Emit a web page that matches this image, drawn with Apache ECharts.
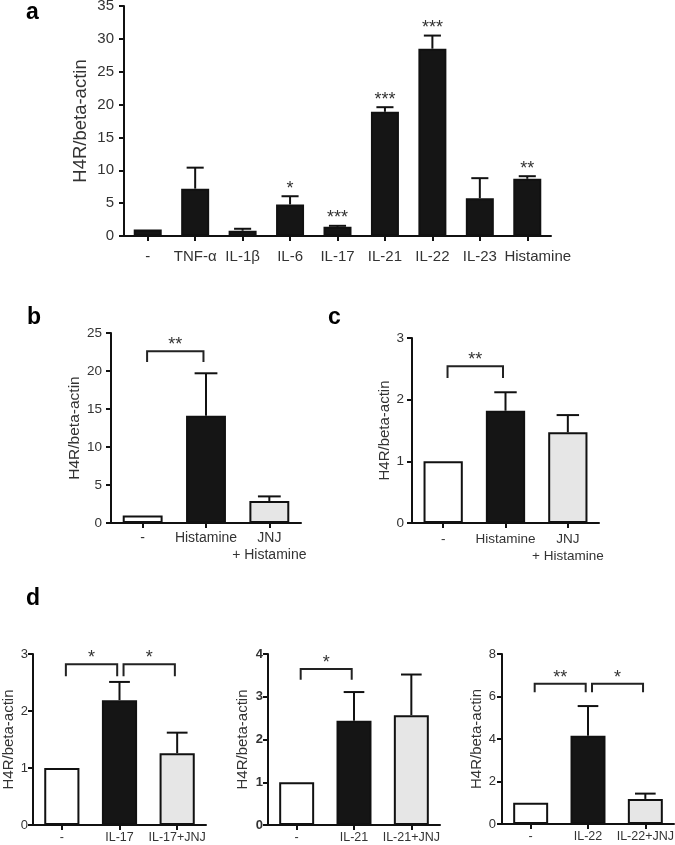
<!DOCTYPE html>
<html><head><meta charset="utf-8">
<script src="https://cdn.jsdelivr.net/npm/echarts@6.0.0/dist/echarts.min.js"></script>
<style>html,body{margin:0;padding:0;background:#fff}#c{width:675px;height:845px}</style>
</head><body><div id="c"></div>
<script>
// ---------------- data ----------------
// Panel a
const catsA = ['-', 'TNF-α', 'IL-1β', 'IL-6', 'IL-17', 'IL-21', 'IL-22', 'IL-23', 'Histamine'];
const meanA = [1.0, 7.2, 0.8, 4.8, 1.4, 18.9, 28.5, 5.75, 8.7];
const upperA = [1.0, 10.4, 1.1, 6.05, 1.55, 19.6, 30.5, 8.8, 9.1];
const starsA = ['', '', '', '*', '***', '***', '***', '', '**'];
const yMaxA = 35, yStepA = 5;

// Panel b
const catsB = ['-', 'Histamine', 'JNJ\n+ Histamine'];
const meanB = [1.0, 14.1, 2.9];
const upperB = [1.0, 19.7, 3.5];
const bracketsB = [[0, 1, 22.6, 21.2]];
const bracketStarsB = ['**'];
const yMaxB = 25, yStepB = 5;

// Panel c
const catsC = ['-', 'Histamine', 'JNJ\n+ Histamine'];
const meanC = [1.0, 1.82, 1.47];
const upperC = [1.0, 2.12, 1.75];
const bracketsC = [[0, 1, 2.54, 2.35]];
const bracketStarsC = ['**'];
const yMaxC = 3, yStepC = 1;

// Panel d (three sub-charts)
const catsD1 = ['-', 'IL-17', 'IL-17+JNJ'];
const meanD1 = [1.0, 2.19, 1.26];
const upperD1 = [1.0, 2.51, 1.62];
const bracketsD1 = [[0, 1, 2.82, 2.61], [1, 2, 2.82, 2.61]];
const bracketStarsD1 = ['*', '*'];
const yMaxD1 = 3, yStepD1 = 1;

const catsD2 = ['-', 'IL-21', 'IL-21+JNJ'];
const meanD2 = [1.0, 2.44, 2.57];
const upperD2 = [1.0, 3.11, 3.52];
const bracketsD2 = [[0, 1, 3.65, 3.4]];
const bracketStarsD2 = ['*'];
const yMaxD2 = 4, yStepD2 = 1;

const catsD3 = ['-', 'IL-22', 'IL-22+JNJ'];
const meanD3 = [1.0, 4.15, 1.18];
const upperD3 = [1.0, 5.55, 1.43];
const bracketsD3 = [[0, 1, 6.6, 6.2], [1, 2, 6.6, 6.2]];
const bracketStarsD3 = ['**', '*'];
const yMaxD3 = 8, yStepD3 = 2;

const yTitle = 'H4R/beta-actin';
const panelLetters = ['a', 'b', 'c', 'd'];

// ---------------- styles / layout ----------------
const FONT = '"Liberation Sans", Arial, sans-serif';
const INK = '#111';
const TXT = '#333';
const BLACK = '#151515', WHITE = '#ffffff', LIGHT = '#e6e6e6';
const trioFills = [WHITE, BLACK, LIGHT];

const panels = [
  { cats: catsA, mean: meanA, upper: upperA, stars: starsA, brackets: [], bstars: [], max: yMaxA, step: yStepA,
    fills: catsA.map(() => BLACK), shiftLast: true,
    g: { left: 124, top: 6, width: 427, height: 230 }, barWidth: '59%',
    tickFont: 15, catFont: 15, nameFont: 18.5, nameGap: 34, yMargin: 10, xMargin: 12, bold: false, lineH: 17 },
  { cats: catsB, mean: meanB, upper: upperB, stars: [], brackets: bracketsB, bstars: bracketStarsB, max: yMaxB, step: yStepB,
    fills: trioFills,
    g: { left: 111, top: 333, width: 190, height: 190 }, barWidth: '63%',
    tickFont: 13.5, catFont: 14, nameFont: 15.5, nameGap: 28, yMargin: 9, xMargin: 7, bold: false, lineH: 17 },
  { cats: catsC, mean: meanC, upper: upperC, stars: [], brackets: bracketsC, bstars: bracketStarsC, max: yMaxC, step: yStepC,
    fills: trioFills,
    g: { left: 412, top: 338, width: 187, height: 185 }, barWidth: '63%',
    tickFont: 13.5, catFont: 13.5, nameFont: 15, nameGap: 20, yMargin: 8, xMargin: 8, bold: false, lineH: 17 },
  { cats: catsD1, mean: meanD1, upper: upperD1, stars: [], brackets: bracketsD1, bstars: bracketStarsD1, max: yMaxD1, step: yStepD1,
    fills: trioFills,
    g: { left: 33, top: 654, width: 173, height: 171 }, barWidth: '61%',
    tickFont: 13, catFont: 12.5, nameFont: 15, nameGap: 17, yMargin: 5, xMargin: 5, bold: false, lineH: 15 },
  { cats: catsD2, mean: meanD2, upper: upperD2, stars: [], brackets: bracketsD2, bstars: bracketStarsD2, max: yMaxD2, step: yStepD2,
    fills: trioFills,
    g: { left: 268, top: 654, width: 172, height: 171 }, barWidth: '61%',
    tickFont: 13, catFont: 12.5, nameFont: 15, nameGap: 18, yMargin: 5, xMargin: 5, bold: true, lineH: 15 },
  { cats: catsD3, mean: meanD3, upper: upperD3, stars: [], brackets: bracketsD3, bstars: bracketStarsD3, max: yMaxD3, step: yStepD3,
    fills: trioFills,
    g: { left: 502, top: 654, width: 172, height: 170 }, barWidth: '61%',
    tickFont: 13, catFont: 12.5, nameFont: 15, nameGap: 18, yMargin: 6, xMargin: 5, bold: false, lineH: 15 }
];

const letterPos = [
  { left: 26, top: 1 }, { left: 27, top: 306 }, { left: 328, top: 306 }, { left: 26, top: 587 }
];

const STAR_FONT = 18;

function errRender(p) {
  return function (params, api) {
    const i = api.value(0), m = api.value(1), u = api.value(2);
    const p0 = api.coord([i, m]);
    const p1 = api.coord([i, u]);
    const band = api.size([1, 0])[0];
    const half = band * 0.18;
    const ch = [];
    if (u > m) {
      ch.push({ type: 'line', shape: { x1: p0[0], y1: p0[1], x2: p1[0], y2: p1[1] }, style: { stroke: INK, lineWidth: 2 } });
      ch.push({ type: 'line', shape: { x1: p1[0] - half, y1: p1[1], x2: p1[0] + half, y2: p1[1] }, style: { stroke: INK, lineWidth: 2 } });
    }
    const s = p.stars[params.dataIndex];
    if (s) {
      ch.push({ type: 'text', x: p1[0], y: p1[1] - 7.5,
        style: { text: s, fill: TXT, fontSize: STAR_FONT, fontFamily: FONT, align: 'center', verticalAlign: 'middle' } });
    }
    return { type: 'group', children: ch };
  };
}

function brRender(p) {
  return function (params, api) {
    const b = p.brackets[params.dataIndex];
    const band = api.size([1, 0])[0];
    const pL = api.coord([b[0], b[2]]);
    const pR = api.coord([b[1], b[2]]);
    const yLeg = api.coord([b[0], b[3]])[1];
    const xl = pL[0] + band * 0.07, xr = pR[0] - band * 0.04;
    const yt = pL[1];
    return { type: 'group', children: [
      { type: 'polyline', shape: { points: [[xl, yLeg], [xl, yt], [xr, yt], [xr, yLeg]] },
        style: { stroke: '#222', lineWidth: 2, fill: 'none' } },
      { type: 'text', x: (xl + xr) / 2, y: yt - 6,
        style: { text: p.bstars[params.dataIndex], fill: TXT, fontSize: STAR_FONT, fontFamily: FONT, align: 'center', verticalAlign: 'middle' } }
    ] };
  };
}

const grid = [], xAxis = [], yAxis = [], series = [];
panels.forEach((p, k) => {
  grid.push(Object.assign({ containLabel: false, outerBoundsMode: 'none' }, p.g));
  const last = p.cats.length - 1;
  xAxis.push({
    type: 'category', gridIndex: k, data: p.cats,
    axisLine: { show: true, onZero: true, lineStyle: { color: INK, width: 2 } },
    axisTick: { show: true, alignWithLabel: true, length: 5, lineStyle: { color: INK, width: 2 } },
    axisLabel: {
      interval: 0, hideOverlap: false, margin: p.xMargin, color: TXT, fontSize: p.catFont, fontFamily: FONT, lineHeight: p.lineH,
      formatter: (v, i) => (p.shiftLast && i === last) ? '{s|' + v + '}' : v,
      rich: { s: { padding: [0, 0, 0, 21], fontSize: p.catFont, fontFamily: FONT, color: TXT } }
    },
    splitLine: { show: false }
  });
  yAxis.push({
    type: 'value', gridIndex: k, min: 0, max: p.max, interval: p.step,
    name: yTitle, nameLocation: 'middle', nameRotate: 90, nameGap: p.nameGap, nameMoveOverlap: false,
    nameTextStyle: { color: TXT, fontSize: p.nameFont, fontFamily: FONT },
    axisLine: { show: true, lineStyle: { color: INK, width: 2 } },
    axisTick: { show: true, length: 5, lineStyle: { color: INK, width: 2 } },
    axisLabel: { margin: p.yMargin, color: TXT, fontSize: p.tickFont, fontFamily: FONT, fontWeight: p.bold ? 'bold' : 'normal' },
    splitLine: { show: false }
  });
  series.push({
    type: 'bar', xAxisIndex: k, yAxisIndex: k, barWidth: p.barWidth, silent: true, animation: false,
    data: p.mean.map((v, i) => ({ value: v, itemStyle: { color: p.fills[i], borderColor: INK, borderWidth: 2 } })),
    z: 2
  });
  series.push({
    type: 'custom', xAxisIndex: k, yAxisIndex: k, silent: true, animation: false, z: 3,
    renderItem: errRender(p), encode: { x: 0, y: [1, 2] },
    data: p.mean.map((m, i) => [i, m, p.upper[i]])
  });
  if (p.brackets.length) {
    series.push({
      type: 'custom', xAxisIndex: k, yAxisIndex: k, silent: true, animation: false, z: 4,
      renderItem: brRender(p), encode: { x: 0, y: 2 },
      data: p.brackets
    });
  }
});

const title = panelLetters.map((t, i) => ({
  text: t, left: letterPos[i].left, top: letterPos[i].top, padding: 0,
  textStyle: { fontSize: 23, fontWeight: 'bold', color: '#000', fontFamily: FONT }
}));

const chart = echarts.init(document.getElementById('c'), null, { renderer: 'canvas' });
chart.setOption({ animation: false, backgroundColor: '#fff', title, grid, xAxis, yAxis, series });
</script>
</body></html>
